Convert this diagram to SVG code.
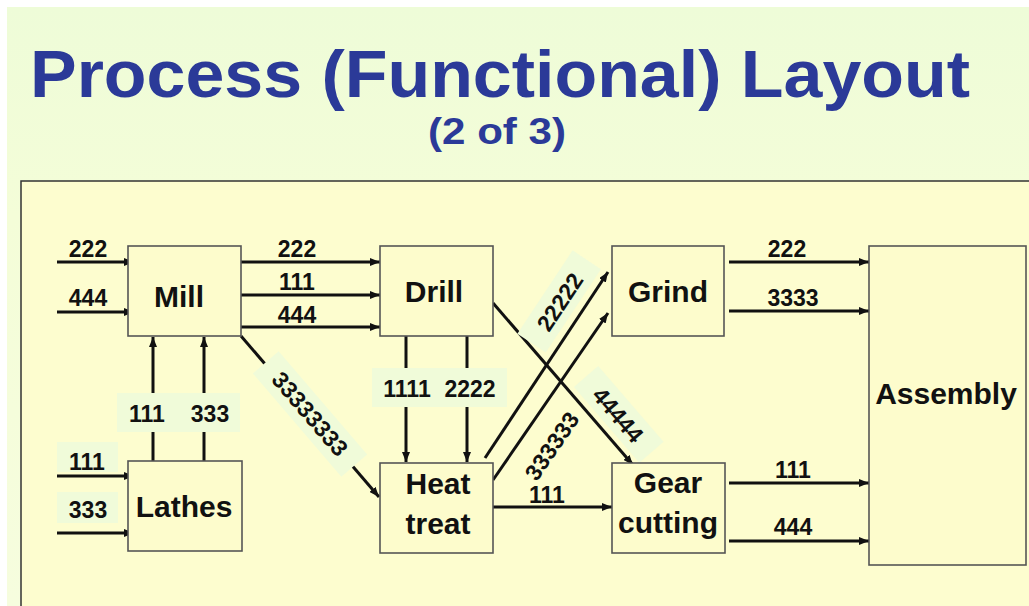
<svg xmlns="http://www.w3.org/2000/svg" width="1029" height="606" viewBox="0 0 1029 606">
<defs>
<linearGradient id="bg" x1="0" y1="0" x2="0" y2="1">
<stop offset="0" stop-color="#eefcd8"/>
<stop offset="0.35" stop-color="#f4fdd8"/>
<stop offset="1" stop-color="#f6fdde"/>
</linearGradient>
<marker id="ah" viewBox="0 0 10 8" refX="10" refY="4" markerWidth="10" markerHeight="8" markerUnits="userSpaceOnUse" orient="auto">
<path d="M0,0 L10,4 L0,8 z" fill="#111"/>
</marker>
</defs>
<style>
.box{fill:#fdfccc;stroke:#555;stroke-width:1.6}
.nt{font-family:"Liberation Sans",Arial,sans-serif;font-weight:bold;font-size:30px;fill:#111;text-anchor:middle}
.lb{font-family:"Liberation Sans",Arial,sans-serif;font-weight:bold;font-size:23px;fill:#111;text-anchor:middle}
.dl{font-family:"Liberation Sans",Arial,sans-serif;font-weight:bold;font-size:23px;fill:#111;text-anchor:middle}
.ln{stroke:#111;stroke-width:3;fill:none}
.ar{stroke:#111;stroke-width:3;fill:none;marker-end:url(#ah)}
.lbg{fill:#f0fbd9}
</style>
<rect x="0" y="0" width="1029" height="606" fill="#ffffff"/>
<rect x="7" y="7" width="1022" height="599" fill="url(#bg)"/>
<rect x="21" y="181" width="1020" height="440" fill="#fdfdcf" stroke="#333" stroke-width="1.5"/>

<g id="title">
<text x="30" y="97" font-family="'Liberation Sans',Arial,sans-serif" font-weight="bold" font-size="66" fill="#2b3a98" textLength="940" lengthAdjust="spacingAndGlyphs">Process (Functional) Layout</text>
<text x="497" y="144" font-family="'Liberation Sans',Arial,sans-serif" font-weight="bold" font-size="37" fill="#2b3a98" text-anchor="middle" textLength="138" lengthAdjust="spacingAndGlyphs">(2 of 3)</text>
</g>

<g id="connectors">
<!-- Mill inputs -->
<line class="ar" x1="57" y1="262" x2="134" y2="262"/>
<line class="ar" x1="57" y1="312" x2="134" y2="312"/>
<text class="lb" x="88" y="257">222</text>
<text class="lb" x="88" y="306">444</text>
<!-- Mill to Drill -->
<line class="ar" x1="241" y1="262" x2="380" y2="262"/>
<line class="ar" x1="241" y1="295" x2="380" y2="295"/>
<line class="ar" x1="241" y1="327" x2="380" y2="327"/>
<text class="lb" x="297" y="257">222</text>
<text class="lb" x="297" y="290">111</text>
<text class="lb" x="297" y="323">444</text>
<!-- Lathes inputs -->
<rect class="lbg" x="57" y="442" width="61" height="30"/>
<rect class="lbg" x="57" y="492" width="61" height="31"/>
<line class="ar" x1="57" y1="476" x2="134" y2="476"/>
<line class="ar" x1="57" y1="533" x2="134" y2="533"/>
<text class="lb" x="87" y="470">111</text>
<text class="lb" x="88" y="518">333</text>
<!-- Lathes to Mill -->
<line class="ar" x1="153" y1="461" x2="153" y2="337"/>
<line class="ar" x1="204" y1="461" x2="204" y2="337"/>
<rect class="lbg" x="117" y="393" width="123" height="39"/>
<text class="lb" x="147" y="422">111</text>
<text class="lb" x="210" y="422">333</text>
<!-- Drill to Heat treat -->
<line class="ar" x1="406" y1="336" x2="406" y2="462"/>
<line class="ar" x1="467" y1="336" x2="467" y2="462"/>
<rect class="lbg" x="372" y="368" width="135" height="39"/>
<text class="lb" x="407" y="397">1111</text>
<text class="lb" x="470" y="397">2222</text>
<!-- Mill to Heat treat -->
<line class="ar" x1="241" y1="336" x2="379" y2="497"/>
<g transform="translate(310,414) rotate(49.4)">
<rect class="lbg" x="-68" y="-17" width="136" height="34"/>
<text class="dl" x="0" y="8">33333333</text>
</g>
<!-- Drill to Gear cutting -->
<line class="ar" x1="493" y1="303" x2="633" y2="465"/>
<!-- Heat treat to Grind -->
<line class="ar" x1="485" y1="458" x2="608" y2="272"/>
<line class="ar" x1="493" y1="480" x2="608" y2="313"/>
<g transform="translate(560,302) rotate(-56.5)">
<rect class="lbg" x="-50" y="-18" width="100" height="34"/>
<text class="dl" x="0" y="8">22222</text>
</g>
<g transform="translate(552,446) rotate(-55.4)">
<text class="dl" x="0" y="8">333333</text>
</g>
<g transform="translate(618,415) rotate(49.2)">
<rect class="lbg" x="-50" y="-17" width="100" height="32"/>
<text class="dl" x="0" y="8">44444</text>
</g>
<!-- Heat treat to Gear -->
<line class="ar" x1="493" y1="507" x2="612" y2="507"/>
<text class="lb" x="547" y="503">111</text>
<!-- Grind to Assembly -->
<line class="ar" x1="729" y1="262" x2="869" y2="262"/>
<line class="ar" x1="729" y1="311" x2="869" y2="311"/>
<text class="lb" x="787" y="257">222</text>
<text class="lb" x="793" y="306">3333</text>
<!-- Gear to Assembly -->
<line class="ar" x1="729" y1="483" x2="869" y2="483"/>
<line class="ar" x1="729" y1="541" x2="869" y2="541"/>
<text class="lb" x="793" y="478">111</text>
<text class="lb" x="793" y="535">444</text>
</g>

<g id="mill">
<rect class="box" x="128" y="246" width="113" height="90"/>
<text class="nt" x="179" y="307">Mill</text>
</g>
<g id="drill">
<rect class="box" x="380" y="246" width="113" height="90"/>
<text class="nt" x="434" y="302">Drill</text>
</g>
<g id="grind">
<rect class="box" x="612" y="246" width="112" height="90"/>
<text class="nt" x="668" y="302">Grind</text>
</g>
<g id="lathes">
<rect class="box" x="128" y="461" width="114" height="90"/>
<text class="nt" x="184" y="517">Lathes</text>
</g>
<g id="heat-treat">
<rect class="box" x="380" y="463" width="113" height="90"/>
<text class="nt" x="438" y="494">Heat</text>
<text class="nt" x="438" y="534">treat</text>
</g>
<g id="gear-cutting">
<rect class="box" x="612" y="463" width="113" height="90"/>
<text class="nt" x="668" y="493">Gear</text>
<text class="nt" x="668" y="533">cutting</text>
</g>
<g id="assembly">
<rect class="box" x="869" y="246" width="157" height="319"/>
<text class="nt" x="946" y="404">Assembly</text>
</g>
</svg>
